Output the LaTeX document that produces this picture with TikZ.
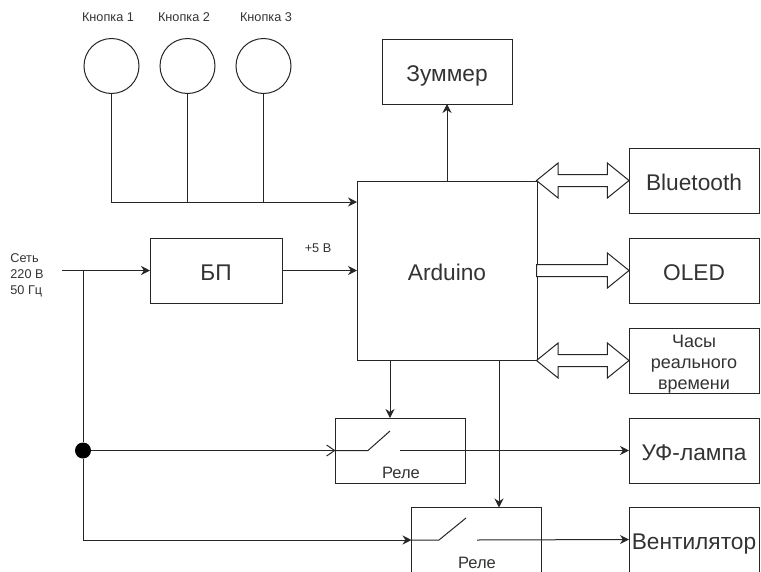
\documentclass[tikz,border=0pt]{standalone}
\usepackage{fontspec}
\setmainfont{Liberation Sans}
\usetikzlibrary{arrows.meta,positioning,shapes.arrows}
\definecolor{ink}{HTML}{262626}
\definecolor{txt}{HTML}{333333}
\tikzset{box/.style={draw=ink,line width=1pt,fill=white,minimum width=130pt,minimum height=65pt,inner xsep=2pt,outer sep=0pt,align=center,text=txt,font=\fontsize{22.7}{27}\selectfont},
mainbox/.style={box,text height=20pt,text depth=0pt},
btn/.style={circle,draw=ink,line width=1pt,minimum size=55pt,inner sep=0pt,outer sep=0pt},
lbl/.style={text=txt,inner sep=0pt,align=left,font=\fontsize{12.7}{16}\selectfont},
rlbl/.style={text=txt,inner sep=0pt,font=\fontsize{16.5}{20}\selectfont},
ln/.style={draw=ink,line width=1pt},
arr/.style={ln,-{Stealth[length=9pt,width=9pt]}},
openarr/.style={ln,-{Straight Barb[length=8pt,width=11pt]}},
bigarr/.style={single arrow,draw=ink,line width=1pt,fill=white,inner sep=5.5pt,outer sep=0pt,minimum height=92.5pt,minimum width=34pt,single arrow head extend=11.5pt,single arrow tip angle=78},
bigboth/.style={double arrow,draw=ink,line width=1pt,fill=white,inner sep=5.5pt,outer sep=0pt,minimum height=92.5pt,minimum width=34pt,double arrow head extend=11.5pt,double arrow tip angle=78}}
\begin{document}
\begin{tikzpicture}[x=1pt,y=-1pt,node distance=25pt and 92pt]
\useasboundingbox (0,0) rectangle (761,571);
\clip (0,0) rectangle (761,571);
% main blocks
\node[mainbox,minimum width=180pt,minimum height=179pt] (ard) at (447,270.5) {Arduino};
\node[mainbox,right=of ard] (oled) {OLED};
\node[mainbox,above=of oled] (bt) {Bluetooth};
\node[box,below=of oled,inner ysep=0pt,font=\fontsize{18}{21}\selectfont] (rtc) {\rule{0pt}{19pt}Часы\\реального\\времени};
\node[mainbox,below=of rtc] (uf) {УФ-лампа};
\node[mainbox,below=24pt of uf] (vent) {Вентилятор};
\node[mainbox,above=77pt of ard] (zum) {Зуммер};
\node[mainbox,left=75pt of ard,minimum width=132pt] (bp) {БП};
% relays
\node[box] (rel1) at (400.5,450.5) {};
\node[box] (rel2) at (476.5,540) {};
\node[rlbl] (rel1t) at (401,473) {Реле};
\node[rlbl] (rel2t) at (477,563) {Реле};
% buttons
\node[btn] (b1) at (111.5,66) {};
\node[btn,right=21pt of b1] (b2) {};
\node[btn,right=21pt of b2] (b3) {};
\node[lbl] (b1t) at (108,17) {Кнопка 1};
\node[lbl] (b2t) at (184,17) {Кнопка 2};
\node[lbl] (b3t) at (266,17) {Кнопка 3};
\node[lbl] (net) at (27,275) {Сеть\\220 В\\50 Гц};
\node[lbl] (volt) at (318,248) {+5 В};
\node[circle,fill=black,minimum size=16pt,inner sep=0pt] (dot) at (83,450.5) {};
% free ends
\coordinate (bus) at (ard.west |- 0,202);
\coordinate (in) at (62,270.5);
\coordinate (tee) at (83,270.5);
\coordinate (sw1a) at (368,450.5);
\coordinate (sw1b) at (390,431);
\coordinate (sw1c) at (400,450.5);
\coordinate (sw2a) at (439,540);
\coordinate (sw2b) at (466,518);
\coordinate (sw2c) at (477,540);
% connectors
\draw[arr] (b1.south) |- (bus);
\draw[ln] (b2.south) -- (b2.south |- bus);
\draw[ln] (b3.south) -- (b3.south |- bus);
\draw[arr] (ard.north) -- (zum.south);
\draw[arr] (in) -- (bp.west);
\draw[arr] (bp.east) -- (ard.west);
\draw[ln] (tee) -- (dot);
\draw[arr] (dot) |- (rel2.west);
\draw[openarr] (dot) -- (rel1.west);
\draw[ln] (rel1.west) -- (sw1a) -- (sw1b);
\draw[arr] (sw1c) -- (uf.west);
\draw[ln] (rel2.west) -- (sw2a) -- (sw2b);
\draw[arr] (sw2c) -- (vent.west);
\draw[arr] (ard.south -| sw1b) -- (rel1.north -| sw1b);
\draw[arr] (ard.south -| 499,0) -- (rel2.north -| 499,0);
% wide arrows
\node[bigboth,left=0pt of bt] (btarr) {};
\node[bigarr,left=0pt of oled] (oledarr) {};
\node[bigboth,left=0pt of rtc] (rtcarr) {};
\end{tikzpicture}
\end{document}
